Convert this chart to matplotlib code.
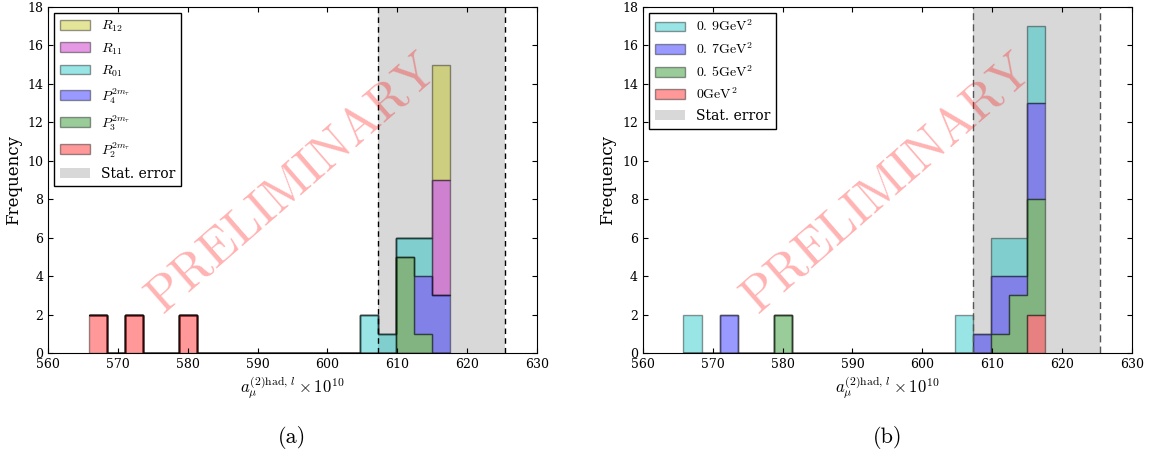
import matplotlib
matplotlib.use("Agg")
import matplotlib.pyplot as plt
import numpy as np

plt.rcParams['font.family'] = 'serif'
plt.rcParams['font.serif'] = ['DejaVu Serif']
plt.rcParams['mathtext.fontset'] = 'cm'
plt.rcParams['xtick.direction'] = 'in'
plt.rcParams['ytick.direction'] = 'in'
plt.rcParams['xtick.top'] = True
plt.rcParams['ytick.right'] = True

# panel (a): estimates of a_mu for each fit type
P2 = [567.1, 567.1, 572.2, 572.2, 580.1, 580.1]
P3 = [611.1, 611.1, 611.1, 611.1, 611.1, 613.7]
P4 = [613.7, 613.7, 613.7, 616.3, 616.3, 616.3]
R01 = [605.9, 605.9, 608.5, 611.1, 613.7, 613.7]
R11 = [616.3, 616.3, 616.3, 616.3, 616.3, 616.3]
R12 = [616.3, 616.3, 616.3, 616.3, 616.3, 616.3]
labels_a = [r'$P_2^{2m_\tau}$', r'$P_3^{2m_\tau}$', r'$P_4^{2m_\tau}$',
            r'$R_{01}$', r'$R_{11}$', r'$R_{12}$']
colors_a = ['r', 'g', 'b', 'c', 'm', 'y']

# panel (b): estimates for each Q^2 cut
Q0 = [616.3, 616.3]
Q05 = [580.1, 580.1, 611.1, 613.7, 613.7, 613.7,
       616.3, 616.3, 616.3, 616.3, 616.3, 616.3]
Q07 = [572.2, 572.2, 608.5, 611.1, 611.1, 611.1, 613.7,
       616.3, 616.3, 616.3, 616.3, 616.3]
Q09 = [567.1, 567.1, 605.9, 605.9, 611.1, 611.1, 613.7, 613.7,
       616.3, 616.3, 616.3, 616.3]
labels_b = [r'$0\mathrm{GeV}^2$', r'$0.\,5\mathrm{GeV}^2$',
            r'$0.\,7\mathrm{GeV}^2$', r'$0.\,9\mathrm{GeV}^2$']
colors_b = ['r', 'g', 'b', 'c']

central = 616.3
stat_err = 9.1

bins = np.linspace(565.8, 617.6, 21)

fig = plt.figure(figsize=(11.51, 4.57), dpi=100)
ax1 = fig.add_axes([0.0417, 0.2276, 0.4248, 0.757])
ax2 = fig.add_axes([0.5586, 0.2276, 0.4248, 0.757])


def panel(ax, data, labels, colors, dashcol, dashes, caption):
    span = ax.axvspan(central - stat_err, central + stat_err, color='gray',
                      alpha=0.3, lw=0, label='Stat. error')
    n, b, patches = ax.hist(data, bins=bins, stacked=True, histtype='stepfilled',
                            color=colors, alpha=0.4, edgecolor='k', lw=1,
                            label=labels)
    for xv in (central - stat_err, central + stat_err):
        ax.axvline(xv, color=dashcol, ls='--', lw=1.0, dashes=dashes)
    ax.set_xlim(560, 630)
    ax.set_ylim(0, 18)
    ax.set_yticks(np.arange(0, 19, 2))
    ax.tick_params(labelsize=9)
    ax.set_xlabel(r'$a_\mu^{(2)\mathrm{had},\,l}\times 10^{10}$', fontsize=12, labelpad=2)
    ax.set_ylabel('Frequency', fontsize=12)
    handles = [p[0] for p in patches][::-1] + [span]
    ax.legend(handles, labels[::-1] + ['Stat. error'], loc='upper left',
              fontsize=10, fancybox=False, edgecolor='k', framealpha=1,
              handlelength=2.2, labelspacing=0.5, borderaxespad=0.45)
    ax.text(0.5, 0.49, 'PRELIMINARY', transform=ax.transAxes, fontsize=36,
            family='cmr10', color='red', alpha=0.3, rotation=41,
            ha='center', va='center')
    ax.text(0.5, -0.245, caption, transform=ax.transAxes, fontsize=16,
            family='cmr10', ha='center', va='center')


panel(ax1, [P2, P3, P4, R01, R11, R12], labels_a, colors_a, 'k', (4, 3), '(a)')
panel(ax2, [Q0, Q05, Q07, Q09], labels_b, colors_b, '#555555', (5, 3), '(b)')

fig.savefig('out.png', dpi=100)
